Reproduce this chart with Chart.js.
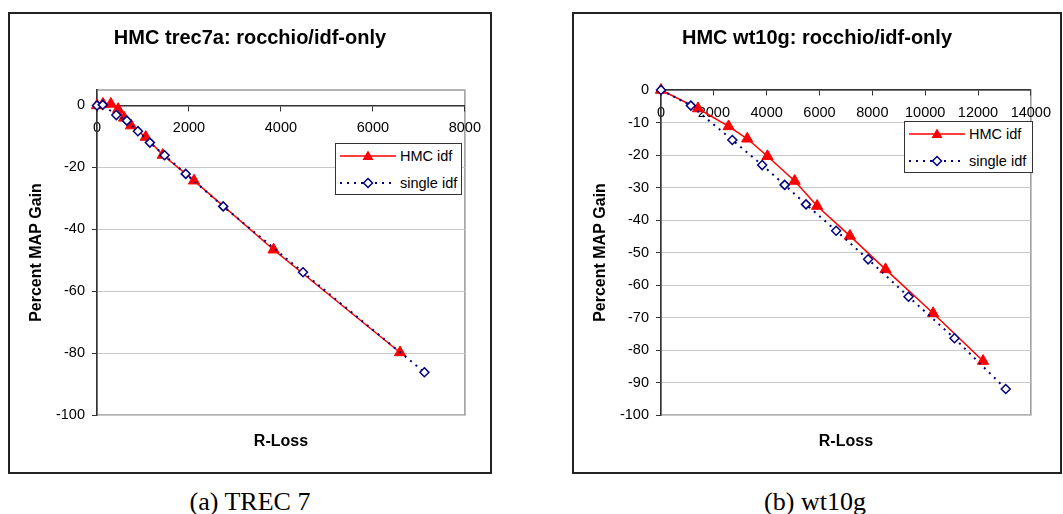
<!DOCTYPE html>
<html>
<head>
<meta charset="utf-8">
<script src="https://cdn.jsdelivr.net/npm/chart.js@4.4.0/dist/chart.umd.min.js"></script>
<style>
  body { margin: 0; background: #fff; width: 1063px; height: 514px; position: relative; overflow: hidden;
         font-family: 'Liberation Sans', Arial, sans-serif; }
  .box { position: absolute; top: 12px; height: 462px; border: 2px solid #222; box-sizing: border-box; background: #fff; }
  .box canvas { position: absolute; left: 0; top: 0; }
  .legend { position: absolute; height: 52px; border: 1.5px solid #333; background: #fff; box-sizing: border-box; font-size: 14.5px; }
  .legend .row { position: absolute; left: 4px; height: 20px; display: flex; align-items: center; white-space: nowrap; }
  .legend svg { margin-right: 4px; }
  .caption { position: absolute; top: 487px; font-family: 'Liberation Serif', 'Times New Roman', serif; font-size: 26px;
             line-height: 30px; transform: translateX(-50%); white-space: nowrap; }
</style>
</head>
<body>
<div class="box" style="left:8px;width:484px"><canvas id="trecChart" width="480" height="458"></canvas></div>
<div class="box" style="left:572px;width:490px"><canvas id="wtChart" width="486" height="458"></canvas></div>
<div class="legend" id="trecLegend" style="left:335px;top:143px;width:127px"></div>
<div class="legend" id="wtLegend" style="left:904px;top:121px;width:129px"></div>
<div class="caption" style="left:250px">(a) TREC 7</div>
<div class="caption" style="left:815px">(b) wt10g</div>

<script>
// ---- data ----
const seriesLabels = ['HMC idf', 'single idf'];

// (a) trec7a
const trecHmcX = [0, 130, 300, 460, 590, 740, 1060, 1430, 2110, 3840, 6590];
const trecHmcY = [0, 0.5, 0.5, -1.2, -4, -6.5, -10.2, -16, -24.3, -46.6, -79.8];
const trecSingleX = [0, 125, 420, 650, 890, 1150, 1470, 1930, 2745, 4480, 7120];
const trecSingleY = [0, 0.2, -3.1, -4.9, -8.3, -12, -16.1, -22.1, -32.6, -53.9, -86.2];
const trecYTicks = [0, -20, -40, -60, -80, -100];

// (b) wt10g
const wtHmcX = [0, 1400, 2560, 3265, 4030, 5060, 5910, 7150, 8500, 10300, 12190];
const wtHmcY = [0, -5.7, -11.2, -15, -20.4, -28, -35.7, -44.9, -55.2, -68.7, -83.4];
const wtSingleX = [0, 1130, 2700, 3830, 4680, 5490, 6630, 7840, 9370, 11110, 13050];
const wtSingleY = [0, -4.8, -15.4, -23.1, -29.2, -35.2, -43.3, -52.1, -63.6, -76.4, -92];
const wtYTicks = [0, -10, -20, -30, -40, -50, -60, -70, -80, -90, -100];

Chart.defaults.font.family = "'Liberation Sans', Arial, sans-serif";
Chart.defaults.color = '#000';

const FONT_TICK = { size: 14.5 };
const AXIS_DARK = '#333';

// grey outline round the plot area, drawn under the axes
const plotFrame = {
    id: 'plotFrame',
    beforeDraw(chart) {
        const { ctx, chartArea: a } = chart;
        ctx.save();
        ctx.strokeStyle = '#9a9a9a';
        ctx.lineWidth = 1.5;
        ctx.strokeRect(a.left, a.top, a.right - a.left, a.bottom - a.top);
        ctx.restore();
    }
};

const toPoints = (xs, ys) => xs.map((x, i) => ({ x, y: ys[i] }));

function makeChart(id, title, hmc, single, xMax, yMax, yTicks, rightGap) {
    new Chart(document.getElementById(id), {
        type: 'scatter',
        data: {
            datasets: [{
                label: seriesLabels[0],
                data: hmc,
                showLine: true,
                borderColor: '#ff0000',
                borderWidth: 1.5,
                pointStyle: 'triangle',
                pointRadius: 6.5,
                pointBackgroundColor: '#ff0000',
                pointBorderColor: '#ff0000',
                pointBorderWidth: 1,
                clip: false,
                order: 2
            }, {
                label: seriesLabels[1],
                data: single,
                showLine: true,
                borderColor: '#000080',
                borderWidth: 2,
                borderDash: [2, 5],
                pointStyle: 'rectRot',
                pointRadius: 4.5,
                pointBackgroundColor: '#fff',
                pointBorderColor: '#000080',
                pointBorderWidth: 1.5,
                clip: false,
                order: 1
            }]
        },
        options: {
            responsive: false,
            animation: false,
            events: [],
            plugins: {
                legend: { display: false },
                tooltip: { enabled: false },
                title: {
                    display: true,
                    text: title,
                    font: { size: 20, weight: 'bold' },
                    color: '#000',
                    padding: { top: 12, bottom: 40 }
                }
            },
            scales: {
                x: {
                    type: 'linear',
                    position: { y: 0 },
                    min: 0,
                    max: xMax,
                    ticks: {
                        stepSize: 2000, padding: 9, maxRotation: 0, autoSkip: false, font: FONT_TICK,
                        callback: (v) => String(v)
                    },
                    grid: { drawOnChartArea: false, tickLength: 5, color: AXIS_DARK },
                    border: { color: AXIS_DARK, width: 1.5 }
                },
                y: {
                    type: 'linear',
                    position: 'left',
                    min: -100,
                    max: yMax,
                    afterBuildTicks: (s) => { s.ticks = yTicks.map(v => ({ value: v })); },
                    afterFit: (s) => { s.width = 87; },
                    ticks: { padding: 7, font: FONT_TICK, callback: (v) => String(v) },
                    grid: {
                        color: (c) => (c.tick && c.tick.value === 0 ? 'rgba(0,0,0,0)' : '#c8c8c8'),
                        tickColor: AXIS_DARK,
                        tickLength: 5
                    },
                    border: { color: AXIS_DARK, width: 1.5 },
                    title: {
                        display: true,
                        text: 'Percent MAP Gain',
                        font: { size: 16, weight: 'bold' },
                        color: '#000',
                        padding: { top: 17.4, bottom: 0 }
                    }
                },
                // bottom strip only carries the axis title
                xTitle: {
                    type: 'linear',
                    position: 'bottom',
                    afterFit: (s) => { s.height = 57; },
                    ticks: { display: false },
                    grid: { display: false },
                    border: { display: false },
                    title: {
                        display: true,
                        text: 'R-Loss',
                        font: { size: 16, weight: 'bold' },
                        color: '#000',
                        padding: { top: 0, bottom: 20.4 }
                    }
                },
                // empty right strip = gap between plot and frame
                yGap: {
                    type: 'linear',
                    position: 'right',
                    afterFit: (s) => { s.width = rightGap; },
                    ticks: { display: false },
                    grid: { display: false },
                    border: { display: false }
                }
            }
        },
        plugins: [plotFrame]
    });
}

function makeLegend(id) {
    const box = document.getElementById(id);
    const samples = [
        '<svg width="56" height="20"><line x1="0" y1="10" x2="56" y2="10" stroke="#ff0000" stroke-width="1.5"/>' +
        '<polygon points="28,4.5 33.5,14 22.5,14" fill="#ff0000"/></svg>',
        '<svg width="56" height="20"><line x1="0" y1="10" x2="56" y2="10" stroke="#000080" stroke-width="2" stroke-dasharray="2,5"/>' +
        '<polygon points="28,5.5 32.5,10 28,14.5 23.5,10" fill="#fff" stroke="#000080" stroke-width="1.5"/></svg>'
    ];
    seriesLabels.forEach((label, i) => {
        const row = document.createElement('div');
        row.className = 'row';
        row.style.top = (i === 0 ? 2 : 29) + 'px';
        row.innerHTML = samples[i] + '<span>' + label + '</span>';
        box.appendChild(row);
    });
}

makeChart('trecChart', 'HMC trec7a: rocchio/idf-only',
    toPoints(trecHmcX, trecHmcY), toPoints(trecSingleX, trecSingleY), 8000, 5, trecYTicks, 17);
makeChart('wtChart', 'HMC wt10g: rocchio/idf-only',
    toPoints(wtHmcX, wtHmcY), toPoints(wtSingleX, wtSingleY), 14000, 0, wtYTicks, 21);
makeLegend('trecLegend');
makeLegend('wtLegend');
</script>
</body>
</html>
